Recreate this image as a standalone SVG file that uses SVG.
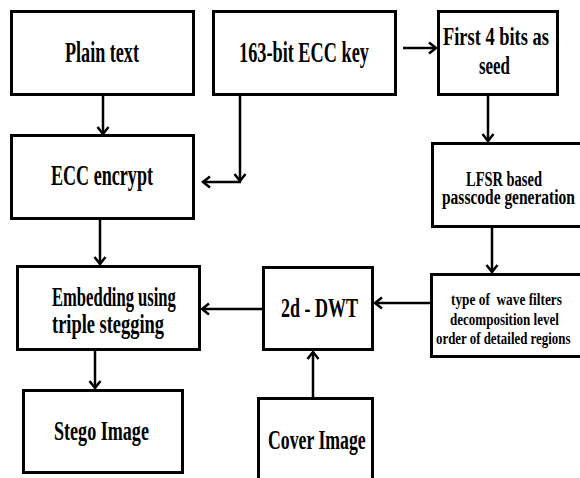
<svg xmlns="http://www.w3.org/2000/svg" width="580" height="478" viewBox="0 0 580 478">
<defs>
<marker id="ah" markerUnits="userSpaceOnUse" markerWidth="14" markerHeight="14" viewBox="0 0 14 14" refX="12" refY="7" orient="auto">
<path d="M5,1.5 L12,7 L5,12.5" fill="none" stroke="#000" stroke-width="2.5" stroke-linejoin="miter"/>
</marker>
<style>
.box{fill:#fff;stroke:#000;stroke-width:3}
.t{font-family:"Liberation Serif","Times New Roman",serif;font-weight:bold;fill:#000}
.c{fill:none;stroke:#000;stroke-width:2.5;marker-end:url(#ah)}
</style>
</defs>
<rect width="580" height="478" fill="#fff"/>
<g id="plain">
<rect class="box" x="11.5" y="11.5" width="182" height="83"/>
<text class="t" transform="translate(65,62) scale(0.604,1)" font-size="30">Plain text</text>
</g>
<g id="key">
<rect class="box" x="213.5" y="11.5" width="182" height="83"/>
<text class="t" transform="translate(239,62) scale(0.609,1)" font-size="30">163-bit ECC key</text>
</g>
<g id="seed">
<rect class="box" x="438.5" y="11.5" width="119" height="83"/>
<text class="t" transform="translate(443,45) scale(0.737,1)" font-size="25">First 4 bits as</text>
<text class="t" transform="translate(479,74) scale(0.677,1)" font-size="25">seed</text>
</g>
<g id="lfsr">
<rect class="box" x="432.5" y="143.5" width="152" height="83"/>
<text class="t" transform="translate(466,186) scale(0.724,1)" font-size="20">LFSR based</text>
<text class="t" transform="translate(442,204) scale(0.775,1)" font-size="20">passcode generation</text>
</g>
<g id="ecc">
<rect class="box" x="11.5" y="135.5" width="182" height="83"/>
<text class="t" transform="translate(51,185) scale(0.603,1)" font-size="30">ECC encrypt</text>
</g>
<g id="embed">
<rect class="box" x="17.5" y="266.5" width="182" height="83"/>
<text class="t" transform="translate(52,306) scale(0.592,1)" font-size="28">Embedding using</text>
<text class="t" transform="translate(52,333) scale(0.658,1)" font-size="28">triple stegging</text>
</g>
<g id="dwt">
<rect class="box" x="263.5" y="267.5" width="109" height="82"/>
<text class="t" transform="translate(281,317) scale(0.667,1)" font-size="27">2d - DWT</text>
</g>
<g id="params">
<rect class="box" x="431.5" y="274.5" width="152" height="82"/>
<text class="t" transform="translate(451,305) scale(0.784,1)" font-size="17" xml:space="preserve">type of  wave filters</text>
<text class="t" transform="translate(450,325) scale(0.767,1)" font-size="17">decomposition level</text>
<text class="t" transform="translate(436,344) scale(0.758,1)" font-size="17">order of detailed regions</text>
</g>
<g id="stego">
<rect class="box" x="23.5" y="390.5" width="159" height="82"/>
<text class="t" transform="translate(54,440) scale(0.670,1)" font-size="27">Stego Image</text>
</g>
<g id="cover">
<rect class="box" x="258.5" y="398.5" width="114" height="90"/>
<text class="t" transform="translate(268,449) scale(0.657,1)" font-size="27">Cover Image</text>
</g>
<g id="connectors">
<path class="c" d="M103,96 L103,134"/>
<path class="c" d="M240,96 L240,181"/>
<path class="c" d="M241,182 L203,182"/>
<path class="c" d="M403,48 L436,48"/>
<path class="c" d="M488,96 L488,141"/>
<path class="c" d="M492,228 L492,272"/>
<path class="c" d="M430,303 L375,303"/>
<path class="c" d="M262,309 L202,309"/>
<path class="c" d="M313,397 L313,352"/>
<path class="c" d="M100,220 L100,264"/>
<path class="c" d="M95,351 L95,388"/>
</g>
</svg>
